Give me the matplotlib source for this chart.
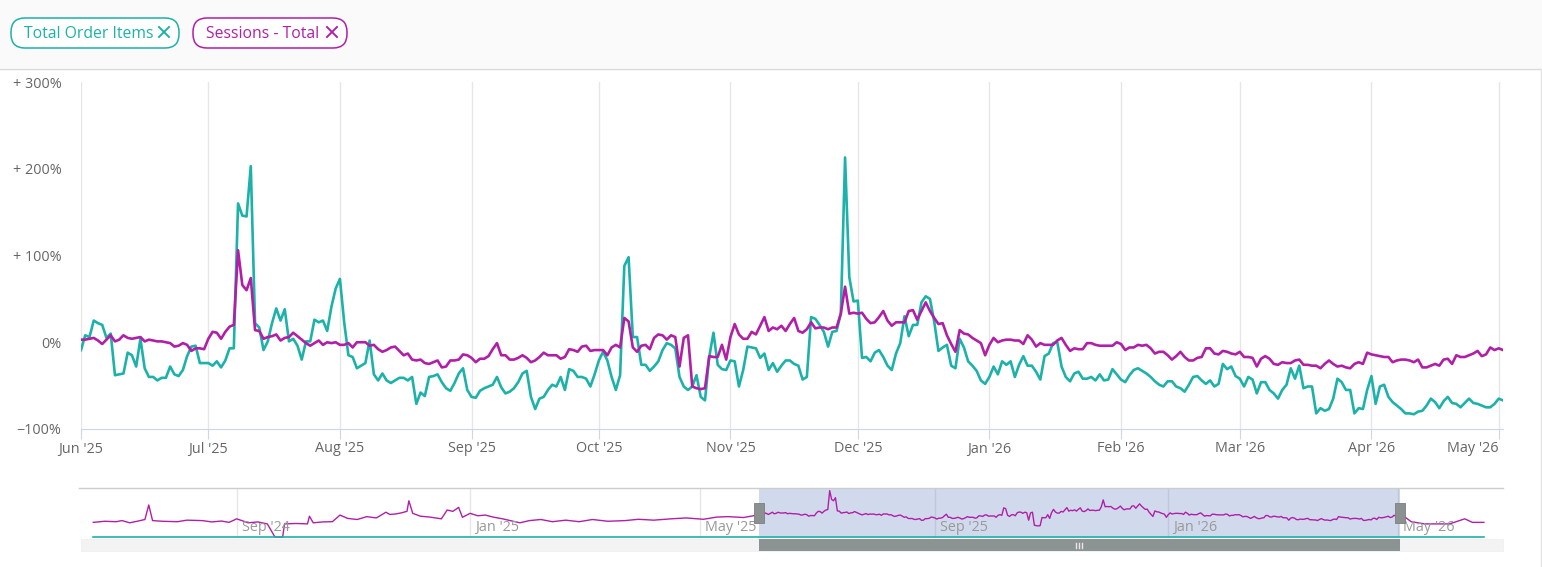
import numpy as np
import pandas as pd
import matplotlib
matplotlib.use('Agg')
import matplotlib.pyplot as plt
import matplotlib.dates as mdates
from matplotlib.patches import FancyBboxPatch, Rectangle

plt.rcParams['font.family'] = ['Open Sans', 'DejaVu Sans']

W, H = 1542, 567
TEAL = '#1cb2a9'
MAGENTA = '#b11fa6'

# daily change vs. comparison period, %, from 2025-06-01
start = '2025-06-01'
order_items = [
    -9, 8, 6, 25, 22, 20, 5, 10, -38, -37, -36, -12, -15, -28, 4, -30, -40, -40, -44, -41,
    -41, -28, -37, -39, -32, -16, -5, -4, -24, -24, -24, -27, -22, -29, -21, -7, -7, 160, 146, 145,
    203, 22, 17, -9, 1, 22, 39, 25, 38, 1, 4, -4, -20, 1, 1, 26, 23, 25, 13, 41,
    62, 73, 23, -15, -17, -30, -27, -24, 2, -37, -44, -36, -44, -47, -44, -41, -41, -44, -40, -71,
    -58, -62, -40, -39, -37, -46, -53, -56, -47, -36, -30, -55, -63, -64, -56, -53, -51, -49, -40, -52,
    -59, -57, -53, -46, -36, -33, -63, -77, -65, -63, -55, -49, -51, -40, -55, -31, -33, -40, -40, -42,
    -51, -37, -21, -11, -21, -40, -55, -38, 88, 98, 6, 6, -26, -26, -33, -28, -22, -9, -1, -3,
    -7, -40, -51, -55, -51, -38, -63, -67, -17, 11, -26, -31, -32, -21, -22, -51, -32, -5, -6, -7,
    -18, -13, -32, -24, -34, -27, -21, -21, -25, -27, -43, -40, 29, 27, 20, 12, -5, 12, 13, 33,
    213, 75, 47, 48, -18, -17, -22, -12, -9, -17, -27, -32, -13, -1, 30, 7, 20, 20, 46, 53,
    50, 24, -10, -6, -3, -27, -30, 4, -6, -22, -27, -33, -44, -48, -40, -28, -37, -22, -26, -22,
    -40, -26, -16, -27, -27, -34, -43, -16, -13, -1, 0, -28, -40, -45, -36, -34, -42, -42, -40, -44,
    -37, -44, -43, -31, -37, -43, -46, -38, -32, -30, -33, -36, -40, -45, -49, -51, -45, -45, -51, -53,
    -57, -49, -40, -39, -44, -48, -44, -51, -48, -25, -31, -28, -39, -42, -51, -40, -43, -59, -46, -46,
    -55, -59, -65, -55, -49, -30, -42, -27, -53, -51, -51, -82, -76, -79, -77, -65, -42, -46, -55, -55,
    -82, -76, -77, -55, -39, -71, -51, -49, -63, -69, -73, -77, -82, -82, -83, -80, -79, -73, -65, -69,
    -76, -68, -63, -70, -71, -75, -70, -65, -70, -71, -73, -75, -75, -71, -65, -67,
]
sessions = [
    3, 3, 4, 5, 2, -2, 3, 8, 1, 3, 8, 5, 4, 5, 6, 1, 3, 2, 1, 1,
    0, -1, -5, -4, -1, -3, -10, -7, -7, -8, 4, 12, 11, 4, 12, 18, 20, 106, 66, 60,
    74, 14, 13, 4, 6, 7, 9, 2, 5, 6, 11, 7, 3, -1, -4, -1, 2, -3, 0, -1,
    0, -3, -3, -1, -6, 0, 0, 0, -4, -3, -8, -11, -9, -6, -5, -10, -15, -13, -20, -21,
    -20, -24, -25, -23, -21, -29, -28, -21, -21, -20, -14, -15, -18, -23, -19, -19, -16, -8, -1, -15,
    -15, -20, -20, -18, -15, -18, -23, -21, -17, -12, -15, -15, -15, -19, -17, -8, -9, -11, -5, -4,
    -10, -9, -9, -9, -15, -6, -3, -6, 28, 24, -6, -11, -4, -3, -8, 5, 9, 8, 3, 8,
    6, -28, 5, 8, -51, -53, -54, -53, -16, -17, -17, -3, -20, 6, 21, 9, 4, 4, 12, 9,
    19, 29, 13, 17, 15, 19, 13, 21, 28, 13, 11, 15, 23, 16, 17, 17, 15, 17, 17, 33,
    64, 33, 34, 33, 34, 27, 22, 23, 29, 36, 25, 19, 23, 23, 23, 36, 37, 26, 36, 46,
    36, 28, 21, 22, 8, -2, -11, 14, 10, 9, 5, 2, -1, -15, -3, 5, 0, 2, 3, 3,
    2, 2, -2, 8, 3, -5, -1, -3, -3, -3, 2, 5, -3, -10, -7, -8, -8, -1, -1, -3,
    -4, -4, -4, -4, 0, -2, -9, -6, -6, -3, -4, -3, -7, -13, -11, -11, -15, -20, -16, -11,
    -17, -21, -21, -18, -17, -7, -7, -13, -14, -10, -11, -13, -14, -11, -17, -17, -18, -28, -19, -16,
    -19, -25, -26, -23, -24, -24, -21, -20, -26, -26, -27, -27, -30, -25, -21, -25, -28, -27, -29, -30,
    -25, -23, -25, -12, -14, -15, -16, -17, -17, -23, -21, -20, -20, -21, -23, -20, -29, -29, -27, -25,
    -27, -20, -19, -25, -15, -17, -17, -15, -13, -10, -16, -14, -6, -9, -7, -9,
]
y_ticks = [-100, 0, 100, 200, 300]
y_labels = ['\u2212100%', '0%', '+ 100%', '+ 200%', '+ 300%']

# navigator: sessions outside the selected range (breakpoints)
nav_pre_dates = ['2024-06-18', '2024-06-24', '2024-06-30', '2024-07-03', '2024-07-07', '2024-07-11',
                 '2024-07-15', '2024-07-17', '2024-07-19', '2024-07-24', '2024-08-01', '2024-08-06',
                 '2024-08-14', '2024-08-19', '2024-08-24', '2024-08-28', '2024-09-01', '2024-09-07',
                 '2024-09-12', '2024-09-17', '2024-09-21', '2024-09-25', '2024-09-26', '2024-10-02',
                 '2024-10-08', '2024-10-09', '2024-10-11', '2024-10-16', '2024-10-21', '2024-10-25',
                 '2024-10-29', '2024-11-03', '2024-11-08', '2024-11-13', '2024-11-18', '2024-11-20',
                 '2024-11-23', '2024-11-26', '2024-11-29', '2024-11-30', '2024-12-02', '2024-12-06',
                 '2024-12-11', '2024-12-17', '2024-12-20', '2024-12-23', '2024-12-26', '2024-12-28',
                 '2025-01-01', '2025-01-05', '2025-01-09', '2025-01-13', '2025-01-18', '2025-01-22',
                 '2025-01-27', '2025-02-01', '2025-02-07', '2025-02-13', '2025-02-20', '2025-02-27',
                 '2025-03-06', '2025-03-14', '2025-03-23', '2025-03-30', '2025-04-07', '2025-04-16',
                 '2025-04-24', '2025-05-03', '2025-05-10', '2025-05-16', '2025-05-24', '2025-05-31']
nav_pre_vals = [-38, -33, -35, -30, -40, -33, -25, 41, -30, -33, -35, -28,
                -30, -36, -32, -38, -22, -40, -36, -45, -105, -105, -45, -43,
                -45, -10, -40, -36, -35, -5, -20, -25, -12, -18, 8, -2,
                0, 5, 12, 60, 3, -10, -14, -22, 18, 12, 30, -15,
                3, -8, -5, -14, -22, -30, -40, -30, -25, -35, -28, -35,
                -25, -33, -30, -24, -28, -22, -18, -24, -14, -12, -16, -5]
nav_post_dates = ['2026-05-04', '2026-05-08', '2026-05-15', '2026-05-28', '2026-06-05', '2026-06-09', '2026-06-15']
nav_post_vals = [-9, -35, -45, -45, -22, -38, -38]
nav_orders_dates = ['2024-06-18', '2026-06-15']
nav_orders = [-106, -106]
nav_ticks = ['2024-09-01', '2025-01-01', '2025-05-01', '2025-09-01', '2026-01-01', '2026-05-01']

dates = pd.date_range(start, periods=len(sessions), freq='D')

fig = plt.figure(figsize=(W / 100, H / 100), dpi=100)


def box(x0, y0, x1, y1):
    return [x0 / W, 1 - y1 / H, (x1 - x0) / W, (y1 - y0) / H]


# main chart
ax = fig.add_axes(box(81, 82, 1503, 429))
ax.plot(dates, order_items, color=TEAL, lw=1.9, solid_joinstyle='round')
ax.plot(dates, sessions, color=MAGENTA, lw=1.9, solid_joinstyle='round')
ax.set_xlim(dates[0], dates[-1])
ax.set_ylim(-100, 300)
ax.xaxis.set_major_locator(mdates.MonthLocator())
ax.xaxis.set_major_formatter(mdates.DateFormatter("%b '%y"))
ax.set_yticks(y_ticks)
ax.set_yticklabels(y_labels)
ax.grid(axis='x', color='#e6e6e6', lw=1)
ax.set_axisbelow(True)
for s in ['top', 'right', 'left']:
    ax.spines[s].set_visible(False)
ax.spines['bottom'].set_color('#ccd6eb')
ax.tick_params(axis='x', length=7, color='#ccd6eb', labelcolor='#666666', labelsize=10.4, pad=2)
ax.tick_params(axis='y', length=0, labelcolor='#666666', labelsize=10.4, pad=14)
fig.canvas.draw()
ax.get_xticklabels()[-1].set_horizontalalignment('right')

# navigator
nav = fig.add_axes(box(81, 488, 1503, 538))
nav_dates = list(pd.to_datetime(nav_pre_dates)) + list(dates) + list(pd.to_datetime(nav_post_dates))
nav_vals = nav_pre_vals + sessions + nav_post_vals
nav.plot(nav_dates, nav_vals, color=MAGENTA, lw=1)
nav.plot(pd.to_datetime(nav_orders_dates), nav_orders, color=TEAL, lw=1.2)
nav.set_xlim(pd.Timestamp('2024-06-11 14:00'), pd.Timestamp('2026-06-25'))
nav.set_ylim(-109, 118)
nav.axis('off')
for t in pd.to_datetime(nav_ticks):
    nav.axvline(t, color='#e6e6e6', lw=1, zorder=0)
    nav.annotate(t.strftime("%b '%y"), (t, 0), xycoords=('data', 'axes fraction'),
                 xytext=(5, 3), textcoords='offset pixels', ha='left', va='bottom',
                 color='#999999', fontsize=10.4)
nav.axvspan(dates[0], dates[-1], color=(102 / 255, 133 / 255, 194 / 255, 0.3), lw=0)

# overlay in pixel units: header, chips, navigator controls
ov = fig.add_axes([0, 0, 1, 1])
ov.set_xlim(0, W)
ov.set_ylim(H, 0)
ov.axis('off')
ov.add_patch(Rectangle((0, 0), W, 68, fc='#fafafa', ec='none', zorder=0))
ov.plot([0, W], [68.5, 68.5], color='#d9d9d9', lw=1)
ov.plot([1540.5, 1540.5], [68.5, H], color='#e3e3e3', lw=1)

for x0, w, label, col in [(11, 168, 'Total Order Items', TEAL), (193, 154, 'Sessions - Total', MAGENTA)]:
    ov.add_patch(FancyBboxPatch((x0, 18), w, 30, boxstyle='round,pad=0,rounding_size=14',
                                fc='white', ec=col, lw=1.1))
    ov.text(x0 + 13, 33.5, label, ha='left', va='center', color=col, fontsize=11.3)
    cx = x0 + w - 15
    ov.plot([cx - 5, cx + 5], [27, 37], color=col, lw=1.4)
    ov.plot([cx - 5, cx + 5], [37, 27], color=col, lw=1.4)

ov.plot([79, 1503], [487.5, 487.5], color='#cccccc', lw=1)
sx0 = nav.transData.transform((mdates.date2num(dates[0]), 0))[0]
sx1 = nav.transData.transform((mdates.date2num(dates[-1]), 0))[0]
ov.add_patch(Rectangle((81, 539), 1422, 12, fc='#f3f3f3', ec='#eeeeee', lw=0.5))
ov.add_patch(Rectangle((sx0, 539), sx1 - sx0, 12, fc='#8b9393', ec='none'))
gx = (sx0 + sx1) / 2
for dx in (-3, 0, 3):
    ov.plot([gx + dx, gx + dx], [542.5, 547.5], color='#e8e8e8', lw=1)
for hx in (sx0, sx1):
    ov.add_patch(Rectangle((hx - 5, 503), 10, 20, fc='#8b9090', ec='#7a7f7f', lw=0.6))

fig.savefig('out.png', dpi=100)
